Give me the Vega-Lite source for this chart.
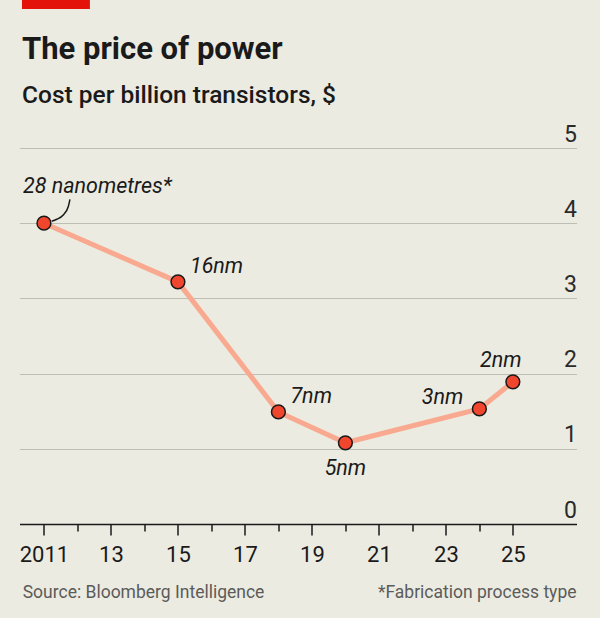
{
  "$schema": "https://vega.github.io/schema/vega-lite/v6.json",
  "width": 557,
  "height": 376,
  "autosize": {"type": "none"},
  "padding": {"left": 19.5, "top": 148, "right": 23.5, "bottom": 94},
  "background": "#ecebe1",
  "config": {"view": {"stroke": null}, "font": "Roboto"},
  "title": {
    "text": "The price of power",
    "subtitle": "Cost per billion transistors, $",
    "anchor": "start",
    "frame": "group",
    "offset": -108,
    "dx": 2.5,
    "font": "Roboto",
    "fontSize": 31,
    "fontWeight": "bold",
    "color": "#1a1a1a",
    "subtitleFont": "Roboto",
    "subtitleFontSize": 24.5,
    "subtitleFontWeight": 500,
    "subtitleColor": "#1a1a1a",
    "subtitlePadding": 18
  },
  "datasets": {
    "chips": [
      {"year": 2011, "cost": 4.0, "label": "28 nanometres*"},
      {"year": 2015, "cost": 3.22, "label": "16nm"},
      {"year": 2018, "cost": 1.49, "label": "7nm"},
      {"year": 2020, "cost": 1.08, "label": "5nm"},
      {"year": 2024, "cost": 1.53, "label": "3nm"},
      {"year": 2025, "cost": 1.89, "label": "2nm"}
    ],
    "leader": [
      {"year": 2011.23, "cost": 4.025},
      {"year": 2011.38, "cost": 4.052},
      {"year": 2011.576, "cost": 4.109},
      {"year": 2011.725, "cost": 4.219},
      {"year": 2011.776, "cost": 4.318}
    ],
    "brand": [
      {"year": 2010.344, "year_end": 2012.372, "cost": 6.968, "cost_end": 6.848}
    ],
    "notes": [
      {"year": 2010.365, "cost": -0.988, "note": "Source: Bloomberg Intelligence", "side": "left"},
      {"year": 2026.9, "cost": -0.988, "note": "*Fabrication process type", "side": "right"}
    ]
  },
  "data": {"name": "chips"},
  "encoding": {
    "x": {
      "field": "year",
      "type": "quantitative",
      "scale": {"domain": [2010.27, 2026.9], "nice": false, "zero": false},
      "axis": {
        "title": null,
        "values": [2011, 2012, 2013, 2014, 2015, 2016, 2017, 2018, 2019, 2020, 2021, 2022, 2023, 2024, 2025],
        "labelExpr": "datum.value % 2 == 0 ? '' : (datum.value == 2011 ? '2011' : substring(toString(datum.value), 2))",
        "grid": false,
        "domainColor": "#1a1a1a",
        "domainWidth": 1.5,
        "tickColor": "#1a1a1a",
        "tickWidth": 1.5,
        "tickSize": {"condition": {"test": "datum.value % 2 == 0", "value": 7}, "value": 11},
        "labelFont": "Roboto",
        "labelFontSize": 22,
        "labelColor": "#1a1a1a",
        "labelBaseline": "alphabetic",
        "labelPadding": 26,
        "labelFlush": false,
        "labelOverlap": false,
        "zindex": 1
      }
    },
    "y": {
      "field": "cost",
      "type": "quantitative",
      "scale": {"domain": [0, 5], "nice": false, "zero": false},
      "axis": {
        "title": null,
        "orient": "right",
        "values": [0, 1, 2, 3, 4, 5],
        "grid": true,
        "gridColor": "#bfbeb5",
        "gridWidth": 1,
        "domain": false,
        "ticks": false,
        "labelAlign": "right",
        "labelBaseline": "alphabetic",
        "labelOffset": -7,
        "labelPadding": 0,
        "labelFont": "Roboto",
        "labelFontSize": 23,
        "labelColor": "#2a2a2a",
        "zindex": 0
      }
    }
  },
  "layer": [
    {
      "data": {"name": "brand"},
      "mark": {"type": "rect", "color": "#e3120b", "clip": false},
      "encoding": {
        "x2": {"field": "year_end"},
        "y2": {"field": "cost_end"}
      }
    },
    {
      "mark": {"type": "line", "stroke": "#f8a98f", "strokeWidth": 5}
    },
    {
      "data": {"name": "leader"},
      "mark": {"type": "line", "stroke": "#1a1a1a", "strokeWidth": 1.5, "interpolate": "monotone"}
    },
    {
      "mark": {"type": "point", "filled": true, "fill": "#f1462e", "stroke": "#1a1a1a", "strokeWidth": 1.5, "size": 190, "opacity": 1}
    },
    {
      "transform": [{"filter": "datum.label == '28 nanometres*'"}],
      "mark": {"type": "text", "align": "left", "baseline": "alphabetic", "dx": -21, "dy": -30.5, "font": "Roboto", "fontStyle": "italic", "fontSize": 21.5, "color": "#1a1a1a"},
      "encoding": {"text": {"field": "label"}}
    },
    {
      "transform": [{"filter": "datum.label == '16nm' || datum.label == '7nm'"}],
      "mark": {"type": "text", "align": "left", "baseline": "alphabetic", "dx": 12, "dy": -8.5, "font": "Roboto", "fontStyle": "italic", "fontSize": 21.5, "color": "#1a1a1a"},
      "encoding": {"text": {"field": "label"}}
    },
    {
      "transform": [{"filter": "datum.label == '5nm'"}],
      "mark": {"type": "text", "align": "center", "baseline": "alphabetic", "dx": 0, "dy": 32, "font": "Roboto", "fontStyle": "italic", "fontSize": 21.5, "color": "#1a1a1a"},
      "encoding": {"text": {"field": "label"}}
    },
    {
      "transform": [{"filter": "datum.label == '3nm'"}],
      "mark": {"type": "text", "align": "right", "baseline": "alphabetic", "dx": -16, "dy": -4.5, "font": "Roboto", "fontStyle": "italic", "fontSize": 21.5, "color": "#1a1a1a"},
      "encoding": {"text": {"field": "label"}}
    },
    {
      "transform": [{"filter": "datum.label == '2nm'"}],
      "mark": {"type": "text", "align": "center", "baseline": "alphabetic", "dx": -12, "dy": -15, "font": "Roboto", "fontStyle": "italic", "fontSize": 21.5, "color": "#1a1a1a"},
      "encoding": {"text": {"field": "label"}}
    },
    {
      "data": {"name": "notes"},
      "transform": [{"filter": "datum.side == 'left'"}],
      "mark": {"type": "text", "align": "left", "baseline": "alphabetic", "font": "Roboto", "fontSize": 17.5, "color": "#5b5b5b", "clip": false},
      "encoding": {"text": {"field": "note"}}
    },
    {
      "data": {"name": "notes"},
      "transform": [{"filter": "datum.side == 'right'"}],
      "mark": {"type": "text", "align": "right", "baseline": "alphabetic", "font": "Roboto", "fontSize": 17.5, "color": "#5b5b5b", "clip": false},
      "encoding": {"text": {"field": "note"}}
    }
  ]
}
